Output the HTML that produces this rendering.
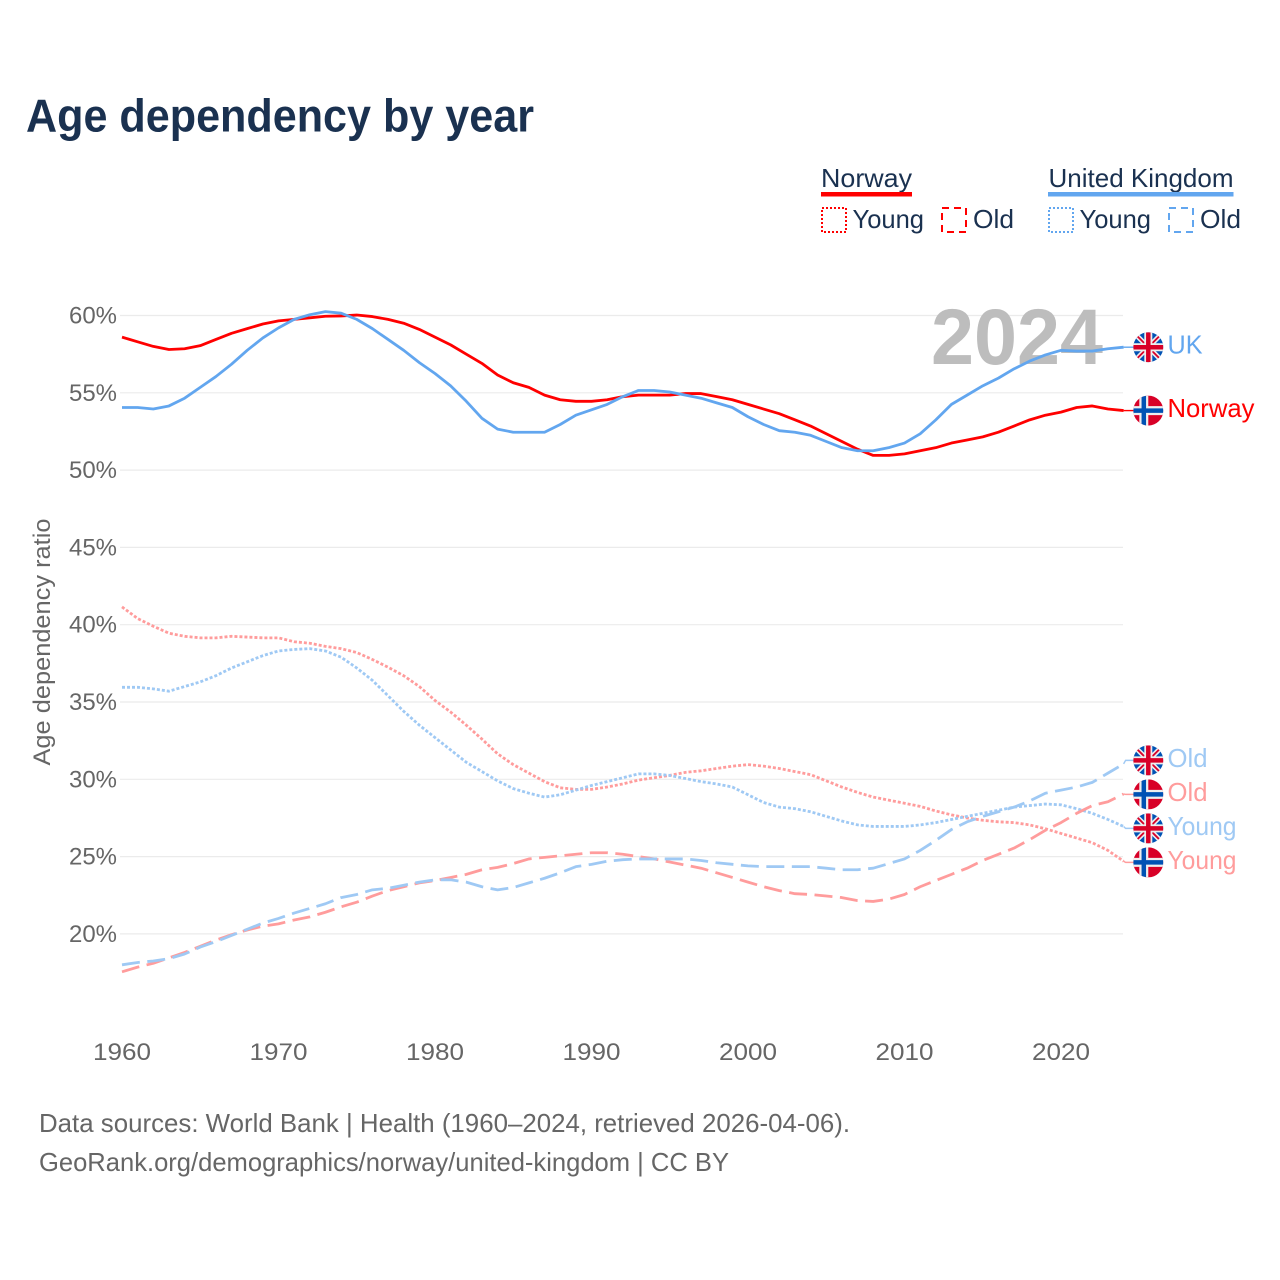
<!DOCTYPE html>
<html lang="en">
<head>
<meta charset="utf-8">
<title>Age dependency by year</title>
<style>
html,body{margin:0;padding:0;background:#fff}
svg{display:block}
text{font-family:"Liberation Sans",sans-serif}
</style>
</head>
<body>
<svg id="chart" xmlns="http://www.w3.org/2000/svg" width="1280" height="1280" viewBox="0 0 1280 1280">
  <defs>
    <clipPath id="flag-clip"><circle cx="0" cy="0" r="15"/></clipPath>
    <g id="flag-uk" clip-path="url(#flag-clip)">
      <rect x="-15" y="-15" width="30" height="30" fill="#0052b4"/>
      <path d="M-15-15L15 15M15-15L-15 15" stroke="#eee" stroke-width="5"/>
      <path d="M-15-15L15 15M15-15L-15 15" stroke="#d80027" stroke-width="1.8"/>
      <path d="M0-15V15M-15 0H15" stroke="#eee" stroke-width="8"/>
      <path d="M0-15V15M-15 0H15" stroke="#d80027" stroke-width="4.5"/>
    </g>
    <g id="flag-no" clip-path="url(#flag-clip)">
      <rect x="-15" y="-15" width="30" height="30" fill="#d80027"/>
      <path d="M-4.5-15V15M-15 0H15" stroke="#eee" stroke-width="9"/>
      <path d="M-4.5-15V15M-15 0H15" stroke="#0052b4" stroke-width="4.5"/>
    </g>
  </defs>

  <text x="26" y="131.5" font-size="46" font-weight="700" fill="#1a3150" textLength="508" lengthAdjust="spacingAndGlyphs">Age dependency by year</text>

  <g font-size="26" fill="#1a3150">
    <g>
      <text x="821" y="187" textLength="91" lengthAdjust="spacingAndGlyphs">Norway</text>
      <rect x="821" y="192" width="91" height="4.5" fill="#ff0000"/>
      <rect x="822" y="208" width="24" height="24" fill="none" stroke="#ff0000" stroke-width="2" stroke-dasharray="2 2"/>
      <text x="852.5" y="228" textLength="71.5" lengthAdjust="spacingAndGlyphs">Young</text>
      <rect x="942" y="208" width="24" height="24" fill="none" stroke="#ff0000" stroke-width="2" stroke-dasharray="7 5"/>
      <text x="973" y="228" textLength="41" lengthAdjust="spacingAndGlyphs">Old</text>
    </g>
    <g>
      <text x="1048.5" y="187" textLength="185" lengthAdjust="spacingAndGlyphs">United Kingdom</text>
      <rect x="1048" y="192" width="185.5" height="4.5" fill="#62a6ef"/>
      <rect x="1049" y="208" width="24" height="24" fill="none" stroke="#62a6ef" stroke-width="2" stroke-dasharray="2 2"/>
      <text x="1079.5" y="228" textLength="71.5" lengthAdjust="spacingAndGlyphs">Young</text>
      <rect x="1169" y="208" width="24" height="24" fill="none" stroke="#62a6ef" stroke-width="2" stroke-dasharray="7 5"/>
      <text x="1200" y="228" textLength="41" lengthAdjust="spacingAndGlyphs">Old</text>
    </g>
  </g>

  <g id="grid"></g>
  <text x="1103" y="364" text-anchor="end" font-size="79" font-weight="700" fill="#bdbdbd" textLength="172" lengthAdjust="spacingAndGlyphs">2024</text>
  <g id="y-ticks"></g>
  <g id="x-ticks"></g>
  <text transform="translate(50,642) rotate(-90)" text-anchor="middle" font-size="24" fill="#666" textLength="247" lengthAdjust="spacingAndGlyphs">Age dependency ratio</text>
  <g id="series"></g>
  <g id="end-labels"></g>

  <text x="39" y="1132" font-size="26" fill="#666" textLength="811" lengthAdjust="spacingAndGlyphs">Data sources: World Bank | Health (1960–2024, retrieved 2026-04-06).</text>
  <text x="39" y="1171" font-size="26" fill="#666" textLength="690" lengthAdjust="spacingAndGlyphs">GeoRank.org/demographics/norway/united-kingdom | CC BY</text>
</svg>

<script>
const firstYear = 1960;
const xTickYears = [1960, 1970, 1980, 1990, 2000, 2010, 2020];
const yTickValues = [20, 25, 30, 35, 40, 45, 50, 55, 60];

const norwayTotal = [
  58.6,58.3,58.0,57.8,57.85,58.05,58.45,58.85,59.15,59.45,
  59.65,59.75,59.85,59.95,59.97,60.03,59.93,59.75,59.5,59.1,
  58.6,58.1,57.5,56.9,56.15,55.65,55.35,54.85,54.55,54.45,
  54.45,54.55,54.75,54.85,54.85,54.85,54.95,54.95,54.75,54.55,
  54.25,53.95,53.65,53.25,52.85,52.35,51.85,51.35,50.95,50.95,
  51.05,51.25,51.45,51.75,51.95,52.15,52.45,52.85,53.25,53.55,
  53.75,54.05,54.15,53.95,53.85];
const ukTotal = [
  54.05,54.05,53.95,54.15,54.65,55.35,56.05,56.85,57.75,58.55,
  59.2,59.75,60.05,60.25,60.15,59.75,59.15,58.45,57.75,56.95,
  56.25,55.45,54.45,53.35,52.65,52.45,52.45,52.45,52.95,53.55,
  53.9,54.25,54.75,55.15,55.15,55.05,54.85,54.65,54.35,54.05,
  53.45,52.95,52.55,52.45,52.25,51.85,51.45,51.25,51.25,51.45,
  51.75,52.35,53.25,54.25,54.85,55.45,55.95,56.55,57.05,57.45,
  57.75,57.7,57.7,57.85,57.95];
const norwayYoung = [
  41.15,40.4,39.9,39.45,39.25,39.15,39.15,39.25,39.2,39.15,
  39.15,38.9,38.8,38.6,38.45,38.2,37.75,37.25,36.7,36.0,
  35.1,34.35,33.5,32.6,31.65,30.95,30.4,29.85,29.45,29.35,
  29.35,29.5,29.7,29.95,30.1,30.25,30.45,30.55,30.7,30.85,
  30.95,30.85,30.7,30.5,30.3,29.9,29.5,29.15,28.85,28.65,
  28.45,28.25,27.95,27.7,27.5,27.35,27.25,27.2,27.05,26.8,
  26.5,26.2,25.9,25.4,24.7];
const ukYoung = [
  35.95,35.95,35.85,35.7,36.0,36.3,36.7,37.2,37.6,38.0,
  38.3,38.4,38.45,38.3,37.9,37.2,36.4,35.4,34.4,33.5,
  32.7,31.9,31.1,30.5,29.9,29.4,29.1,28.85,29.0,29.3,
  29.6,29.85,30.1,30.35,30.35,30.25,30.05,29.85,29.7,29.5,
  29.0,28.5,28.2,28.1,27.9,27.6,27.3,27.05,26.95,26.95,
  26.95,27.05,27.2,27.4,27.6,27.8,28.0,28.2,28.3,28.4,
  28.35,28.1,27.8,27.4,26.95];
const norwayOld = [
  17.55,17.85,18.1,18.45,18.8,19.2,19.6,19.95,20.25,20.5,
  20.65,20.9,21.1,21.4,21.75,22.05,22.45,22.8,23.05,23.3,
  23.45,23.65,23.85,24.15,24.3,24.55,24.85,24.95,25.05,25.15,
  25.25,25.25,25.15,25.0,24.85,24.65,24.45,24.25,23.95,23.65,
  23.35,23.05,22.8,22.6,22.55,22.45,22.35,22.15,22.1,22.25,
  22.55,23.05,23.45,23.85,24.25,24.75,25.15,25.55,26.1,26.7,
  27.2,27.8,28.3,28.55,29.05];
const ukOld = [
  18.0,18.15,18.25,18.4,18.7,19.15,19.5,19.9,20.3,20.7,
  21.0,21.35,21.65,21.95,22.35,22.55,22.85,22.95,23.15,23.35,
  23.5,23.5,23.35,23.05,22.85,23.0,23.3,23.6,23.95,24.35,
  24.5,24.7,24.8,24.85,24.85,24.85,24.85,24.75,24.6,24.5,
  24.4,24.35,24.35,24.35,24.35,24.25,24.15,24.15,24.25,24.55,
  24.85,25.4,26.05,26.75,27.25,27.6,27.9,28.2,28.6,29.1,
  29.3,29.5,29.8,30.4,31.0];

const SVGNS = 'http://www.w3.org/2000/svg';
const xScale = year => 122 + (year - 1960) * 15.65;
const yScale = value => 315.5 + (60 - value) * 15.46;
const LINE_COLORS = {red:'#ff0000', blue:'#62a6ef', lightRed:'#ff9c9c', lightBlue:'#9fc9f4'};

function make(tag, attrs, parent, text) {
  const el = document.createElementNS(SVGNS, tag);
  for (const k in attrs) el.setAttribute(k, attrs[k]);
  if (text !== undefined) el.textContent = text;
  parent.appendChild(el);
  return el;
}

const gridGroup = document.getElementById('grid');
const yTickGroup = document.getElementById('y-ticks');
yTickValues.forEach(v => {
  const line = make('line', {x1:120, x2:1123, y1:yScale(v), y2:yScale(v), stroke:'#ebebeb', 'stroke-width':1.2}, gridGroup);
  
  
  const label = make('text', {x:117, y:yScale(v) + 8, 'text-anchor':'end', 'font-size':24, fill:'#666', textLength:48, lengthAdjust:'spacingAndGlyphs'}, yTickGroup, v + '%');
  
  
});

const xTickGroup = document.getElementById('x-ticks');
xTickYears.forEach(y => {
  const label = make('text', {x:xScale(y), y:1060, 'text-anchor':'middle', 'font-size':24, fill:'#666', textLength:58, lengthAdjust:'spacingAndGlyphs'}, xTickGroup, String(y));
  
  
});

const seriesDefs = [
  {name:'norway-young', values:norwayYoung, color:LINE_COLORS.lightRed, dash:'3 2', flag:'flag-no', label:'Young', width:2.8},
  {name:'uk-young', values:ukYoung, color:LINE_COLORS.lightBlue, dash:'3 2', flag:'flag-uk', label:'Young', width:2.8},
  {name:'norway-old', values:norwayOld, color:LINE_COLORS.lightRed, dash:'18 7.5', flag:'flag-no', label:'Old', width:2.8},
  {name:'uk-old', values:ukOld, color:LINE_COLORS.lightBlue, dash:'18 7.5', flag:'flag-uk', label:'Old', width:2.8},
  {name:'norway-total', values:norwayTotal, color:LINE_COLORS.red, dash:'', flag:'flag-no', label:'Norway', width:2.8},
  {name:'uk-total', values:ukTotal, color:LINE_COLORS.blue, dash:'', flag:'flag-uk', label:'UK', width:2.8}
];

const seriesGroup = document.getElementById('series');
seriesDefs.forEach(s => {
  const pts = s.values.map((v, i) => xScale(firstYear + i).toFixed(2) + ',' + yScale(v).toFixed(2)).join(' ');
  const line = make('polyline', {points:pts, fill:'none', stroke:s.color, 'stroke-width':s.width, 'stroke-linejoin':'round'}, seriesGroup);
  if (s.dash) line.setAttribute('stroke-dasharray', s.dash);
  
  
});

/* End labels: dodge overlapping labels by merging them into evenly spaced clusters */
const LABEL_GAP = 34;
const labelItems = seriesDefs.map(s => ({def:s, endX:xScale(firstYear + s.values.length - 1), endY:yScale(s.values[s.values.length - 1])}));
labelItems.sort((a, b) => a.endY - b.endY);
let clusters = labelItems.map(it => ({items:[it], center:it.endY}));
let merged = true;
while (merged) {
  merged = false;
  for (let i = 0; i < clusters.length - 1; i++) {
    const a = clusters[i], b = clusters[i + 1];
    const aBottom = a.center + (a.items.length - 1) * LABEL_GAP / 2;
    const bTop = b.center - (b.items.length - 1) * LABEL_GAP / 2;
    if (bTop - aBottom < LABEL_GAP) {
      const items = a.items.concat(b.items);
      const center = items.reduce((t, it) => t + it.endY, 0) / items.length;
      clusters.splice(i, 2, {items:items, center:center});
      merged = true;
      break;
    }
  }
}
const labelGroup = document.getElementById('end-labels');
const labelWidths = {UK:35, Norway:87, Old:40, Young:69};
clusters.forEach(c => {
  c.items.forEach((it, idx) => {
    const ly = c.center + (idx - (c.items.length - 1) / 2) * LABEL_GAP;
    const connector = make('polyline', {
      points: it.endX + ',' + it.endY + ' ' + (it.endX + 2) + ',' + ly + ' 1134,' + ly,
      fill:'none', stroke:it.def.color, 'stroke-width':1.4
    }, labelGroup);
    
    
    const flag = make('use', {href:'#' + it.def.flag, transform:'translate(1148.3,' + ly + ')'}, labelGroup);
    
    
    const text = make('text', {x:1167.5, y:ly + 6.5, 'font-size':26, fill:it.def.color, textLength:labelWidths[it.def.label], lengthAdjust:'spacingAndGlyphs'}, labelGroup, it.def.label);
    
    
  });
});
</script>
</body>
</html>
